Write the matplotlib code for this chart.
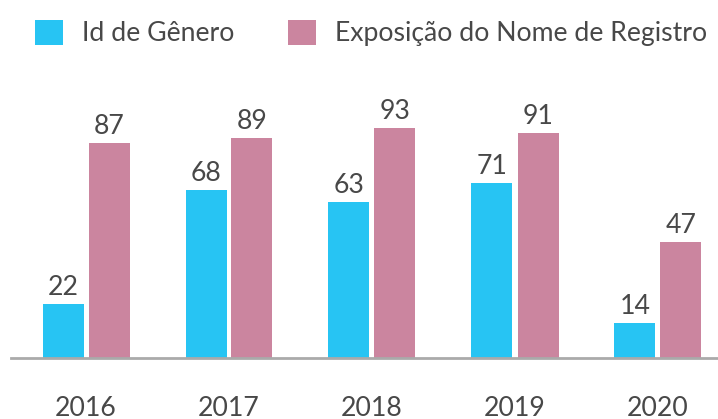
import matplotlib
matplotlib.use("Agg")
import matplotlib.pyplot as plt
import numpy as np

years = ["2016", "2017", "2018", "2019", "2020"]
id_genero = [22, 68, 63, 71, 14]
exposicao = [87, 89, 93, 91, 47]
series_names = ["Id de Gênero", "Exposição do Nome de Registro"]

BLUE = "#27C4F3"
PINK = "#CB859F"
TEXT = "#484848"

plt.rcParams['font.family'] = ['Lato', 'DejaVu Sans']

W, H = 718, 419
fig = plt.figure(figsize=(W / 100, H / 100), dpi=100)
ax_left, ax_right = 11, 718
base_y = 358
ppu = 2.47
top_y = base_y - 100 * ppu
ax = fig.add_axes([ax_left / W, (H - base_y) / H, (ax_right - ax_left) / W, (base_y - top_y) / H])

x = np.arange(len(years))
unit = 143.0
bw = 41 / unit
off = 23 / unit
fs = 19.2

b1 = ax.bar(x - off, id_genero, width=bw, color=BLUE, label=series_names[0])
b2 = ax.bar(x + off, exposicao, width=bw, color=PINK, label=series_names[1])

for bars, vals in ((b1, id_genero), (b2, exposicao)):
    for rect, v in zip(bars, vals):
        ax.annotate(str(v), (rect.get_x() + rect.get_width() / 2, v),
                    xytext=(0, 6.5), textcoords="offset points",
                    ha="center", va="baseline", fontsize=fs, color=TEXT)

ax.set_xlim(2 - (372 - ax_left) / unit, 2 + (ax_right - 372) / unit)
ax.set_ylim(0, 100)
ax.set_xticks(x)
ax.set_xticklabels(years, fontsize=fs, color=TEXT)
ax.tick_params(axis='x', length=0, pad=27)
ax.set_yticks([])
for s in ["top", "right", "left"]:
    ax.spines[s].set_visible(False)
ax.spines["bottom"].set_color("#AAAAAA")
ax.spines["bottom"].set_linewidth(2)

fs_px = fs * 100 / 72
fig.legend(handles=[b1, b2], labels=series_names, loc="upper left",
           bbox_to_anchor=(35 / W, 1 - 20 / H), ncol=2, frameon=False,
           fontsize=fs, labelcolor=TEXT, handlelength=28 / fs_px,
           handleheight=28 / fs_px, handletextpad=19 / fs_px,
           columnspacing=54 / fs_px, borderpad=0, borderaxespad=0)

fig.savefig("out.png", dpi=100)
